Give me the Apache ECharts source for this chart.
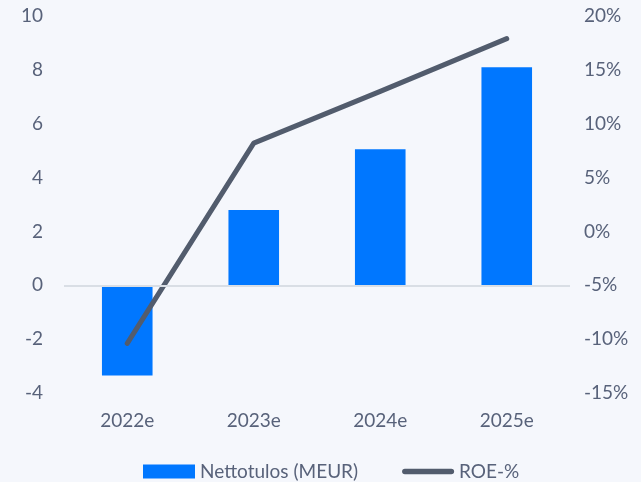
<!DOCTYPE html>
<html>
<head>
<meta charset="utf-8">
<script src="https://cdn.jsdelivr.net/npm/echarts@6/dist/echarts.min.js"></script>
<style>
  html, body { margin: 0; padding: 0; background: #f5f7fc; }
  #chart { width: 641px; height: 482px; }
</style>
</head>
<body>
<div id="chart"></div>
<script>
// Categories and values
const years = ['2022e', '2023e', '2024e', '2025e'];
const netIncome = [-3.35, 2.8, 5.05, 8.1];      // Nettotulos (MEUR)
const roe = [-10.4, 8.2, 13.0, 17.9];            // ROE-%
const leftTicks = { min: -4, max: 10, interval: 2 };
const rightTicks = { min: -15, max: 20, interval: 5 };

const textColor = '#58627a';
const fontFamily = 'Lato, sans-serif';
const fontSize = 19;

// rounded thick stroke used as the line legend marker
const lineIcon = 'path://M3,0 H53 A3,3 0 0 1 53,6 H3 A3,3 0 0 1 3,0 Z';

const chart = echarts.init(document.getElementById('chart'), null, { renderer: 'canvas' });
chart.setOption({
  backgroundColor: '#f5f7fc',
  animation: false,
  textStyle: { fontFamily: fontFamily },
  grid: { left: 64, right: 71, top: 16, bottom: 89 },
  legend: {
    top: 457,
    left: 138,
    itemGap: 44,
    itemWidth: 52,
    itemHeight: 14,
    textStyle: { color: textColor, fontSize: fontSize, fontFamily: fontFamily },
    data: [
      { name: 'Nettotulos (MEUR)', icon: 'rect' },
      { name: 'ROE-%', icon: lineIcon }
    ]
  },
  xAxis: {
    type: 'category',
    data: years,
    axisLine: { show: false },
    axisTick: { show: false },
    axisLabel: { color: textColor, fontSize: fontSize, margin: 18 }
  },
  yAxis: [
    {
      type: 'value',
      min: leftTicks.min, max: leftTicks.max, interval: leftTicks.interval,
      splitLine: { show: false },
      axisLine: { show: false },
      axisTick: { show: false },
      axisLabel: { color: textColor, fontSize: fontSize, margin: 21 }
    },
    {
      type: 'value',
      min: rightTicks.min, max: rightTicks.max, interval: rightTicks.interval,
      splitLine: { show: false },
      axisLine: { show: false },
      axisTick: { show: false },
      axisLabel: { color: textColor, fontSize: fontSize, margin: 14, formatter: '{value}%' }
    }
  ],
  series: [
    {
      name: 'Nettotulos (MEUR)',
      type: 'bar',
      data: netIncome,
      barWidth: '40%',
      itemStyle: { color: '#0077ff' },
      markLine: {
        silent: true,
        symbol: 'none',
        label: { show: false },
        lineStyle: { color: '#d9dee5', type: 'solid', width: 2 },
        data: [{ yAxis: 0 }]
      }
    },
    {
      name: 'ROE-%',
      type: 'line',
      yAxisIndex: 1,
      data: roe,
      showSymbol: false,
      symbol: 'none',
      lineStyle: { color: '#525c6d', width: 5, cap: 'round', join: 'round' },
      itemStyle: { color: '#525c6d' },
      z: 3
    }
  ]
});
</script>
</body>
</html>
